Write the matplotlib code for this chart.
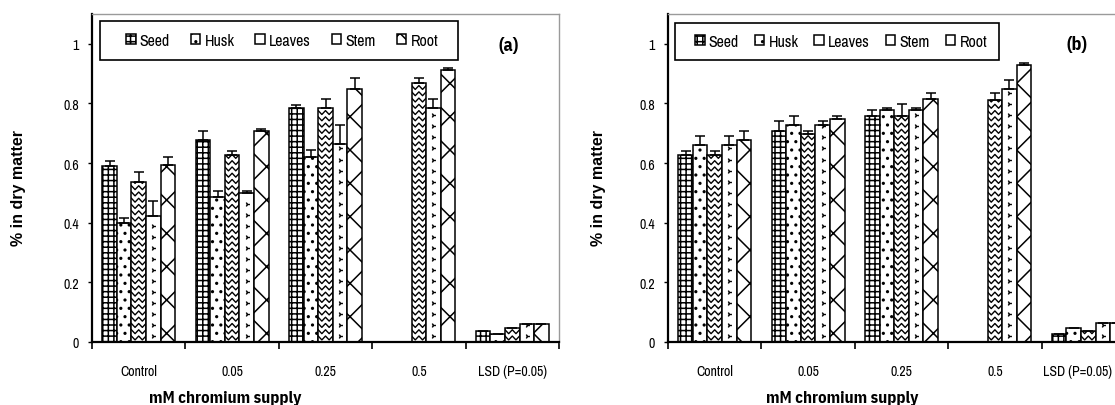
import numpy as np
import matplotlib.pyplot as plt
from matplotlib.patches import Rectangle

narrow = ['Liberation Sans Narrow', 'Arial Narrow', 'Archivo Narrow', 'PT Sans Narrow',
          'Roboto Condensed', 'IBM Plex Sans Condensed', 'Liberation Sans', 'DejaVu Sans']
bold_narrow = ['IBM Plex Sans Condensed', 'Liberation Sans', 'DejaVu Sans']
plt.rcParams['font.family'] = narrow
plt.rcParams['hatch.color'] = 'black'
plt.rcParams['hatch.linewidth'] = 1.1

categories = ['Control', '0.05', '0.25', '0.5', 'LSD (P=0.05)']
parts = ['Seed', 'Husk', 'Leaves', 'Stem', 'Root']

# panel (a) means and upper error bars (nan = no bar / no error bar)
a_seed = [0.590, 0.678, 0.785, np.nan, 0.038]
a_husk = [0.398, 0.486, 0.622, np.nan, 0.027]
a_leaves = [0.538, 0.628, 0.785, 0.868, 0.046]
a_stem = [0.423, 0.500, 0.664, 0.785, 0.059]
a_root = [0.595, 0.709, 0.848, 0.913, 0.059]
a_seed_err = [0.017, 0.031, 0.011, np.nan, np.nan]
a_husk_err = [0.019, 0.020, 0.022, np.nan, np.nan]
a_leaves_err = [0.031, 0.011, 0.030, 0.018, np.nan]
a_stem_err = [0.051, 0.006, 0.064, 0.030, np.nan]
a_root_err = [0.027, 0.007, 0.038, 0.005, np.nan]

# panel (b)
b_seed = [0.628, 0.709, 0.759, np.nan, 0.027]
b_husk = [0.659, 0.728, 0.779, np.nan, 0.046]
b_leaves = [0.628, 0.696, 0.759, 0.812, 0.038]
b_stem = [0.659, 0.728, 0.779, 0.847, 0.064]
b_root = [0.678, 0.748, 0.815, 0.930, 0.064]
b_seed_err = [0.011, 0.031, 0.020, np.nan, np.nan]
b_husk_err = [0.031, 0.031, 0.005, np.nan, np.nan]
b_leaves_err = [0.011, 0.011, 0.038, 0.023, np.nan]
b_stem_err = [0.031, 0.012, 0.005, 0.032, np.nan]
b_root_err = [0.031, 0.011, 0.020, 0.005, np.nan]

hatches = {'Seed': '+++', 'Husk': '..', 'Leaves': None, 'Stem': None, 'Root': 'x'}

W, H = 1115, 406
fig = plt.figure(figsize=(W / 100, H / 100), dpi=100)


def px(x0, y0, w, h):
    # pixel box (top-left origin) -> figure fraction
    return [x0 / W, 1 - (y0 + h) / H, w / W, h / H]


def chevrons(ax, bar):
    # zig-zag fill for the Leaves bars, clipped to the bar
    h = bar.get_height()
    if not np.isfinite(h):
        return
    x0, w = bar.get_x(), bar.get_width()
    xs = [x0, x0 + w / 4, x0 + w / 2, x0 + 3 * w / 4, x0 + w]
    for y in np.arange(0.02, h + 0.03, 0.021):
        ln, = ax.plot(xs, [y, y - 0.013, y, y - 0.013, y], color='black', lw=1.0)
        ln.set_clip_path(bar)


def arrows(ax, bar):
    # sparse '>' marks for the Stem bars
    h = bar.get_height()
    if not np.isfinite(h):
        return
    xc = bar.get_x() + bar.get_width() / 2
    ys = np.arange(0.02, h, 0.037)
    ln, = ax.plot(np.full(len(ys), xc), ys, ls='none', marker='4', ms=3.5, mew=1.0,
                  color='black')
    ln.set_clip_path(bar)


def draw_panel(ax, values, errors, tag, tag_xy, leg_box, leg_inner, ylab_x, xlab_x, lab_pos):
    x = np.arange(len(categories))
    w = 0.156
    handles = []
    for i, name in enumerate(parts):
        pos = x + (i - 2) * w
        vals = np.array(values[i], float)
        errs = np.array(errors[i], float)
        bars = ax.bar(pos, vals, w, color='white', edgecolor='black', linewidth=1.1,
                      hatch=hatches[name], label=name, zorder=2)
        for b in bars:
            if name == 'Leaves':
                chevrons(ax, b)
            elif name == 'Stem':
                arrows(ax, b)
        ax.errorbar(pos, vals, yerr=[np.zeros_like(errs), errs], fmt='none', ecolor='black',
                    elinewidth=1.1, capsize=3.5, capthick=1.1, zorder=3)
        handles.append(bars)

    ax.set_xlim(-0.5, 4.5)
    ax.set_ylim(0, 1.1)
    ax.set_yticks([0, 0.2, 0.4, 0.6, 0.8, 1.0])
    ax.set_yticklabels(['0', '0.2', '0.4', '0.6', '0.8', '1'], fontsize=10)
    ax.set_xticks(np.arange(-0.5, 5, 1))
    ax.set_xticklabels([])
    ax.set_xticks(lab_pos, minor=True)
    ax.set_xticklabels(categories, minor=True, fontsize=10)
    ax.tick_params(axis='x', which='major', length=5, width=1.2, direction='out')
    ax.tick_params(axis='x', which='minor', length=0, pad=16)
    ax.tick_params(axis='y', length=3, width=1.0, pad=6.5)
    for s in ['left', 'bottom']:
        ax.spines[s].set_linewidth(1.6)
    for s in ['top', 'right']:
        ax.spines[s].set_color('#9a9a9a')
        ax.spines[s].set_linewidth(1.0)

    fig.patches.append(Rectangle(leg_box[:2], leg_box[2], leg_box[3], transform=fig.transFigure,
                                 facecolor='none', edgecolor='black', linewidth=1.2, zorder=5))
    ax.legend(handles, parts, loc='center', bbox_to_anchor=leg_inner,
              bbox_transform=fig.transFigure, mode='expand', ncol=5, frameon=False,
              handlelength=0.6, handleheight=0.6, handletextpad=0.25,
              borderaxespad=0, borderpad=0, fontsize=11.5)

    fig.text(tag_xy[0] / W, 1 - tag_xy[1] / H, tag, fontsize=13, weight='bold',
             family=bold_narrow, ha='center', va='center')
    fig.text(ylab_x / W, 1 - 188 / H, '% in dry matter', rotation=90, fontsize=11.5,
             weight='bold', family=['Liberation Sans', 'DejaVu Sans'], ha='center', va='center')
    fig.text(xlab_x / W, 1 - 403 / H, 'mM chromium supply', fontsize=12, weight='bold',
             family=bold_narrow, ha='center', va='baseline')


ax_a = fig.add_axes(px(92, 15, 467, 328))
ax_b = fig.add_axes(px(668, 15, 467, 328))

draw_panel(ax_a,
           [a_seed, a_husk, a_leaves, a_stem, a_root],
           [a_seed_err, a_husk_err, a_leaves_err, a_stem_err, a_root_err],
           '(a)', (509, 46),
           (100 / W, 1 - 61 / H, 358 / W, 39 / H),
           (126 / W, 1 - 61 / H, 312 / W, 39 / H), 19, 225,
           [0, 1, 2, 3, 4])
# Excel pulls the last label of (b) inside the picture
draw_panel(ax_b,
           [b_seed, b_husk, b_leaves, b_stem, b_root],
           [b_seed_err, b_husk_err, b_leaves_err, b_stem_err, b_root_err],
           '(b)', (1077, 45),
           (675 / W, 1 - 61 / H, 324 / W, 37 / H),
           (695 / W, 1 - 61 / H, 292 / W, 37 / H), 598, 842,
           [0, 1, 2, 3, 3.88])

fig.savefig('out.png', dpi=100)
